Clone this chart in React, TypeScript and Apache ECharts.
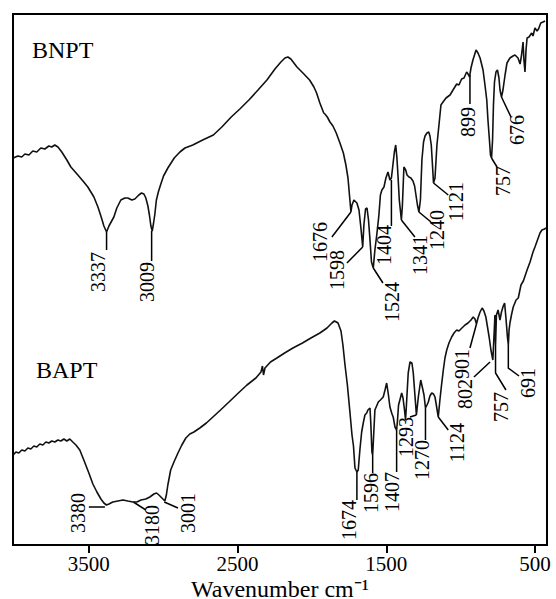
import { useEffect, useRef } from 'react';
import * as echarts from 'echarts';

// x-axis tick labels (wavenumber, cm-1)
const tickValues = [3500, 2500, 1500, 500];

// BNPT spectrum (wavenumber, transmittance a.u.)
const bnptWavenumber = [4008,3977,3951,3930,3903,3877,3850,3823,3796,3769,3749,3729,3708,3682,3648,3621,3574,3534,3507,3466,3439,3417,3399,3381,3365,3332,3312,3285,3258,3238,3211,3191,3164,3146,3130,3117,3103,3093,3083,3074,3066,3057,3046,3033,3016,2998,2969,2926,2888,2854,2801,2735,2663,2606,2543,2485,2424,2363,2303,2249,2209,2182,2162,2142,2101,2061,2016,1987,1969,1947,1921,1913,1897,1879,1859,1837,1812,1789,1772,1758,1745,1738,1731,1718,1698,1684,1671,1659,1651,1640,1630,1620,1610,1600,1588,1577,1563,1550,1540,1530,1516,1503,1489,1476,1466,1456,1446,1437,1429,1422,1413,1399,1392,1382,1370,1361,1348,1335,1321,1310,1301,1291,1281,1271,1261,1250,1240,1227,1215,1207,1198,1190,1183,1173,1160,1143,1133,1119,1099,1072,1052,1027,1012,994,978,960,951,941,931,918,897,884,870,850,837,825,817,807,800,793,786,780,773,763,753,743,736,726,716,702,689,669,649,635,615,601,591,581,575,568,561,554,541,523,514,501,487,477,462,447,433];
const bnptValue = [77.4,77.8,77.6,78.2,78.0,78.8,78.6,79.4,79.2,79.8,79.6,80.0,79.6,78.6,77.0,75.6,74.0,72.6,71.6,69.6,67.6,65.6,63.8,62.6,63.8,65.6,67.4,69.0,69.4,69.4,69.0,69.2,70.0,70.4,70.2,69.4,67.8,66.0,63.8,62.8,64.2,66.0,69.0,70.6,72.2,73.8,75.4,77.4,78.6,79.4,80.0,81.0,82.0,83.6,85.6,87.2,89.0,91.0,93.0,95.2,96.6,97.4,97.6,97.2,95.6,94.4,93.0,91.6,90.4,88.4,86.4,86.2,85.6,84.6,83.8,82.4,80.4,78.4,76.0,73.4,69.0,66.6,68.0,69.0,68.4,67.0,63.4,59.6,64.0,67.2,67.4,65.0,61.0,56.6,55.4,59.0,62.4,66.0,70.0,71.0,71.6,73.4,74.6,73.0,73.4,76.0,78.6,80.0,77.4,74.0,69.0,65.0,68.0,75.6,75.0,74.0,73.6,73.4,72.8,71.8,70.0,68.0,66.6,69.0,77.0,80.6,81.8,82.4,82.6,81.8,80.0,76.0,72.4,73.4,80.0,85.0,88.0,88.6,89.4,90.0,91.0,92.2,92.0,93.2,93.4,94.6,94.2,93.6,95.4,97.0,99.0,98.4,97.4,95.0,92.0,89.0,85.0,81.0,78.0,77.4,81.0,88.0,92.6,94.6,95.0,93.4,91.0,89.6,91.0,94.0,96.4,97.4,97.8,98.0,97.4,96.2,98.0,100.6,97.0,94.6,99.0,101.4,101.6,102.4,101.8,103.4,102.8,103.2,104.4,104.6,104.8];

// BAPT spectrum (wavenumber, transmittance a.u.)
const baptWavenumber = [4008,3991,3971,3951,3930,3910,3890,3870,3850,3830,3809,3789,3769,3749,3729,3708,3688,3668,3648,3628,3608,3587,3561,3534,3500,3473,3446,3419,3399,3382,3365,3339,3305,3271,3238,3204,3177,3150,3117,3090,3063,3045,3029,3009,2989,2979,2969,2950,2928,2901,2875,2848,2821,2794,2754,2710,2666,2615,2558,2495,2437,2377,2343,2333,2326,2316,2279,2236,2184,2128,2064,2007,1947,1899,1866,1849,1836,1825,1805,1792,1778,1762,1745,1731,1721,1711,1698,1689,1678,1666,1654,1644,1632,1624,1610,1604,1597,1592,1587,1577,1554,1540,1521,1509,1498,1486,1476,1462,1454,1442,1431,1425,1418,1409,1397,1388,1378,1371,1365,1353,1341,1328,1319,1308,1298,1285,1269,1257,1247,1237,1227,1218,1207,1195,1183,1173,1163,1151,1140,1129,1117,1106,1094,1079,1061,1045,1027,1012,992,971,951,931,916,904,894,884,870,856,844,831,820,808,797,784,776,770,766,760,749,736,726,714,705,696,686,680,675,669,659,647,628,613,595,579,554,534,514,501,484,467,454,437,427];
const baptValue = [18.0,18.6,18.4,19.0,18.8,19.4,19.2,19.8,19.6,20.2,20.0,20.6,20.4,20.8,20.6,21.0,20.8,21.2,20.8,21.2,20.6,20.0,19.0,17.0,14.4,12.2,10.6,9.2,8.4,8.0,8.2,8.6,8.8,9.0,8.8,8.6,8.6,9.0,9.2,9.6,10.2,10.4,10.0,9.4,8.8,10.0,12.0,15.0,16.6,18.4,20.0,21.4,22.2,22.6,23.4,24.4,25.6,27.0,28.6,30.4,32.0,33.4,34.6,35.8,34.0,35.4,36.6,37.4,38.4,39.4,40.4,41.4,42.4,43.4,44.4,44.8,44.6,44.4,42.8,40.0,36.0,32.0,26.6,22.0,19.8,15.4,14.6,15.0,19.0,22.6,24.6,26.0,26.4,27.0,27.4,24.0,18.6,18.0,21.0,27.0,28.6,29.0,29.6,31.0,32.4,30.0,27.6,26.2,25.6,23.6,23.0,25.0,28.0,29.0,30.4,29.4,27.0,25.0,28.0,34.4,36.6,36.4,34.4,30.0,26.0,29.6,33.0,31.4,30.0,27.4,28.0,28.6,29.8,30.4,30.2,29.6,27.8,25.6,29.0,32.0,35.0,37.4,39.0,40.4,41.6,42.4,43.0,42.8,43.4,44.0,44.4,45.0,45.6,45.2,44.2,45.4,46.6,47.4,46.8,45.6,43.6,41.4,39.0,37.0,42.0,46.0,40.0,46.0,47.0,45.0,46.6,47.8,48.4,45.4,41.6,40.0,43.0,44.4,46.0,47.6,49.0,49.4,52.0,52.8,55.0,56.6,58.6,59.6,61.0,62.4,63.0,63.2,63.4];

// Peak annotations: label, point on curve, leader path, label top
const bnptPeakLabels = ['3337','3009','1676','1598','1524','1404','1341','1240','1121','899','757','676'];
const bnptPeakPoints = [[3381,62.6],[3078,62.8],[1738,66.6],[1659,59.6],[1588,55.4],[1466,73.0],[1399,65.0],[1281,66.6],[1183,72.4],[938,94.0],[793,77.4],[726,89.6]];
const bnptLeaderPaths = [[[3381,59.0]],[[3078,56.8]],[[1866,61.6]],[[1765,56.4]],[[1523,52.4]],[[1466,63.8]],[[1308,61.6]],[[1200,64.6]],[[1084,70.0]],[[938,88.2]],[[756,75.6]],[[662,85.6]]];
const bnptLabelTops = [[3439,58.6],[3110,56.6],[1947,64.6],[1832,59.0],[1462,52.6],[1516,64.0],[1274,62.0],[1160,67.0],[1032,72.6],[951,87.6],[716,75.8],[622,86.0]];

const baptPeakLabels = ['3380','3180','3001','1674','1596','1407','1293','1270','1124','901','802','757','691'];
const baptPeakPoints = [[3392,7.6],[3201,8.6],[2993,8.6],[1698,14.6],[1592,18.0],[1431,23.0],[1298,26.0],[1237,27.4],[1151,25.6],[894,44.2],[803,36.6],[766,40.0],[680,40.0]];
const baptLeaderPaths = [[[3500,7.6]],[[3117,7.0]],[[2901,7.4]],[[1698,9.0]],[[1592,14.4]],[[1431,14.6]],[[1341,25.6]],[[1237,21.0]],[[1084,23.0]],[[938,39.4]],[[911,33.6]],[[766,34.4],[696,31.0]],[[680,35.4],[608,33.8]]];
const baptLabelTops = [[3574,10.4],[3076,8.0],[2834,10.4],[1751,9.0],[1604,14.4],[1462,14.6],[1368,25.6],[1263,21.0],[1022,24.4],[992,39.2],[971,33.2],[729,30.6],[551,35.4]];

const SERIF = '"Liberation Serif", "Times New Roman", serif';

function peakSeries(labels: string[], points: number[][], paths: number[][][], tops: number[][]) {
  return {
    type: 'custom',
    silent: true,
    data: points,
    encode: { x: 0, y: 1 },
    renderItem: (params: any, api: any) => {
      const i = params.dataIndex;
      const pts = [points[i], ...paths[i]].map((p) => api.coord(p));
      const tp = api.coord(tops[i]);
      return {
        type: 'group',
        children: [
          {
            type: 'polyline',
            shape: { points: pts },
            style: { stroke: '#000', lineWidth: 1.5, fill: null },
          },
          {
            type: 'text',
            x: tp[0],
            y: tp[1],
            rotation: Math.PI / 2,
            style: {
              text: labels[i],
              font: `20px ${SERIF}`,
              fill: '#000',
              align: 'right',
              verticalAlign: 'middle',
            },
          },
        ],
      };
    },
  };
}

export default function App() {
  const ref = useRef<HTMLDivElement>(null);
  useEffect(() => {
    const chart = echarts.init(ref.current!, null, { renderer: 'svg' });
    const lineStyle = { color: '#111', width: 1.6 };
    chart.setOption({
      animation: false,
      backgroundColor: '#fff',
      grid: {
        left: 13, right: 9, top: 14, bottom: 54,
        show: true, borderColor: '#000', borderWidth: 2,
        outerBoundsMode: 'none', containLabel: false,
      },
      xAxis: {
        type: 'value',
        inverse: true,
        min: 420,
        max: 4010,
        name: 'Wavenumber cm\u207B\u00B9',
        nameLocation: 'middle',
        nameGap: 34,
        nameMoveOverlap: false,
        nameTextStyle: { fontFamily: SERIF, fontSize: 24, lineHeight: 20, color: '#000' },
        axisLine: { show: true, lineStyle: { color: '#000', width: 2 } },
        axisTick: { show: true, inside: false, length: 8, customValues: tickValues, lineStyle: { color: '#000', width: 2 } },
        axisLabel: {
          customValues: tickValues,
          formatter: (v: number) => String(v),
          fontFamily: SERIF, fontSize: 21, lineHeight: 18, color: '#000', margin: 10,
        },
        splitLine: { show: false },
      },
      yAxis: { type: 'value', min: 0, max: 106.2, show: false, splitLine: { show: false } },
      graphic: [
        { type: 'text', x: 32, y: 50, style: { text: 'BNPT', font: `24px ${SERIF}`, fill: '#000', verticalAlign: 'middle' } },
        { type: 'text', x: 36, y: 370, style: { text: 'BAPT', font: `24px ${SERIF}`, fill: '#000', verticalAlign: 'middle' } },
      ],
      series: [
        {
          type: 'line',
          name: 'BNPT',
          showSymbol: false,
          silent: true,
          lineStyle,
          data: bnptWavenumber.map((w, i) => [w, bnptValue[i]]),
        },
        {
          type: 'line',
          name: 'BAPT',
          showSymbol: false,
          silent: true,
          lineStyle,
          data: baptWavenumber.map((w, i) => [w, baptValue[i]]),
        },
        peakSeries(bnptPeakLabels, bnptPeakPoints, bnptLeaderPaths, bnptLabelTops),
        peakSeries(baptPeakLabels, baptPeakPoints, baptLeaderPaths, baptLabelTops),
      ],
    });
    return () => chart.dispose();
  }, []);
  return <div ref={ref} style={{ position: 'fixed', left: 0, top: 0, width: 556, height: 599, background: '#fff' }} />;
}
